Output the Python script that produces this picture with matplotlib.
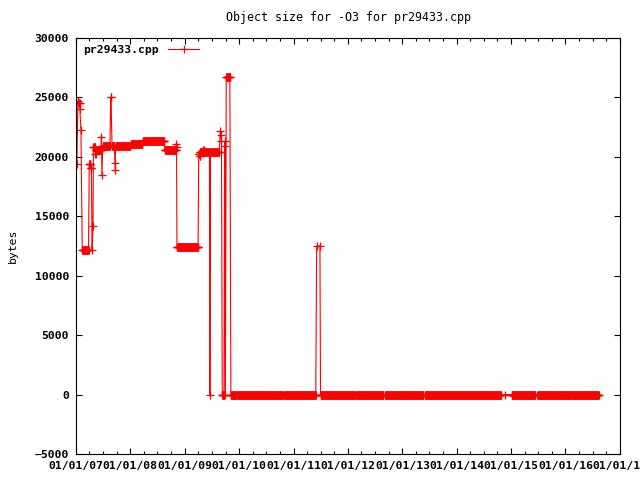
import matplotlib
matplotlib.use('Agg')
import matplotlib.pyplot as plt
import matplotlib.dates as mdates
import pandas as pd

# nightly object sizes, kept as runs of equal size:
# first build date, last build date, size in bytes (single builds have start == end)
run_start = [
    '2007-01-07', '2007-01-14', '2007-01-17', '2007-01-27', '2007-02-03',
    '2007-02-12', '2007-03-31', '2007-04-10', '2007-04-19', '2007-04-25',
    '2007-04-28', '2007-05-10', '2007-05-14', '2007-06-21', '2007-06-24',
    '2007-06-30', '2007-08-22', '2007-08-31', '2007-09-19', '2007-09-21',
    '2007-09-24', '2008-01-02', '2008-03-25', '2008-08-20', '2008-11-04',
    '2008-11-06', '2008-11-09', '2009-04-04', '2009-04-10', '2009-04-14',
    '2009-05-06', '2009-05-10', '2009-06-18', '2009-06-22', '2009-08-27',
    '2009-08-31', '2009-09-04', '2009-09-09', '2009-09-25', '2009-09-27',
    '2009-09-30', '2009-10-06', '2009-11-06', '2009-12-21', '2010-10-28',
    '2011-06-05', '2011-06-27', '2011-07-01', '2012-02-23', '2012-09-06',
    '2013-02-27', '2013-06-01', '2014-11-18', '2015-01-04', '2015-06-27',
    '2016-02-13',
]
run_end = [
    '2007-01-07', '2007-01-14', '2007-01-25', '2007-01-27', '2007-02-03',
    '2007-03-27', '2007-04-08', '2007-04-14', '2007-04-19', '2007-04-25',
    '2007-05-08', '2007-05-12', '2007-06-18', '2007-06-21', '2007-06-24',
    '2007-08-17', '2007-08-25', '2007-09-17', '2007-09-19', '2007-09-21',
    '2007-12-30', '2008-03-22', '2008-08-14', '2008-11-02', '2008-11-04',
    '2008-11-06', '2009-04-01', '2009-04-08', '2009-04-12', '2009-05-04',
    '2009-05-08', '2009-06-16', '2009-06-18', '2009-08-20', '2009-08-27',
    '2009-08-31', '2009-09-04', '2009-09-21', '2009-09-25', '2009-09-27',
    '2009-09-30', '2009-10-30', '2009-12-14', '2010-10-19', '2011-05-31',
    '2011-06-05', '2011-06-27', '2012-02-16', '2012-08-25', '2013-02-21',
    '2013-05-23', '2014-10-24', '2014-11-18', '2015-06-09', '2016-02-06',
    '2016-08-12',
]
run_value = [
    19400, 24700, 24500, 24000, 22300,
    12200, 19400, 19100, 12200, 14200,
    20800, 20200, 20600, 21700, 18500,
    20900, 25000, 20900, 19500, 18900,
    20900, 21100, 21300, 20600, 21100,
    20800, 12400, 20200, 20100, 20400,
    20600, 20400, 0, 20400, 22200,
    21800, 21300, 0, 21300, 20900,
    0, 26700, 0, 0, 0,
    12500, 12500, 0, 0, 0,
    0, 0, 0, 0, 0,
    0,
]

title = 'Object size for -O3 for pr29433.cpp'
series_name = 'pr29433.cpp'
y_ticks = [-5000, 0, 5000, 10000, 15000, 20000, 25000, 30000]

dates, sizes = [], []
for s, e, v in zip(run_start, run_end, run_value):
    for d in pd.date_range(s, e, freq='2D'):
        dates.append(d)
        sizes.append(v)

plt.rcParams['font.family'] = ['DejaVu Sans Mono']
plt.rcParams['font.weight'] = 'bold'
plt.rcParams['font.size'] = 8.2

fig = plt.figure(figsize=(6.4, 4.8), dpi=100)
ax = fig.add_axes([76 / 640, 1 - 454 / 480, 544 / 640, 416 / 480])

ax.plot(dates, sizes, color='#ff0000', lw=0.8, marker='+', ms=6, mew=0.9,
        label=series_name)

ax.set_xlim(pd.Timestamp('2007-01-01'), pd.Timestamp('2017-01-01'))
ax.set_ylim(-5000, 30000)
ax.set_yticks(y_ticks)
ax.xaxis.set_major_locator(mdates.YearLocator())
ax.xaxis.set_major_formatter(mdates.DateFormatter('%m/%d/%y'))
ax.xaxis.set_minor_locator(mdates.MonthLocator(bymonth=[4, 7, 10]))
ax.tick_params(which='both', direction='in', top=True, right=True, width=0.8)
ax.tick_params(which='major', length=4.5, pad=5)
ax.tick_params(which='minor', length=2.5)
for sp in ax.spines.values():
    sp.set_linewidth(0.8)

ax.set_ylabel('bytes', labelpad=12)
ax.set_title(title, fontsize=8.4, pad=12)
ax.legend(loc='upper left', frameon=False, markerfirst=False, handlelength=2.8,
          borderaxespad=0.2, handletextpad=0.8)

plt.savefig('out.png', dpi=100)
plt.close()
